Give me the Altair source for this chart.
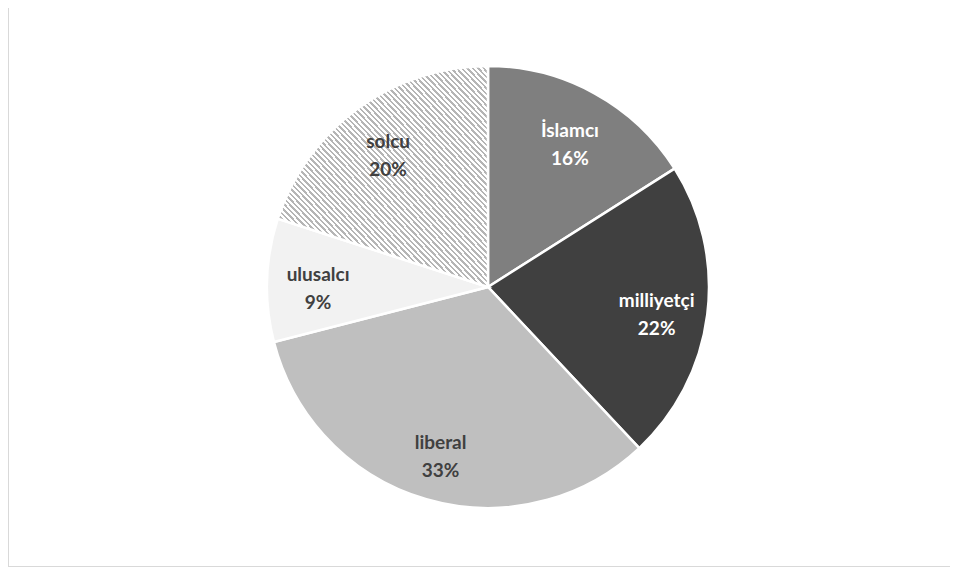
import altair as alt
import pandas as pd

categories = ["İslamcı", "milliyetçi", "liberal", "ulusalcı", "solcu"]
values = [16, 22, 33, 9, 20]
colors = ["#7f7f7f", "#404040", "#bfbfbf", "#f2f2f2", "#ffffff"]

df = pd.DataFrame({"cat": categories, "val": values, "idx": list(range(len(categories)))})

# diagonal hatch for "solcu" built as a striped linear gradient
n_stripes = 78
stops = []
for i in range(n_stripes):
    o0 = i / n_stripes
    o1 = (i + 0.55) / n_stripes
    o2 = (i + 1) / n_stripes
    stops += [
        {"offset": o0, "color": "#ffffff"},
        {"offset": o1, "color": "#ffffff"},
        {"offset": o1, "color": "#b5b5b5"},
        {"offset": o2, "color": "#b5b5b5"},
    ]
hatch = {"gradient": "linear", "x1": 0, "y1": 1, "x2": 1, "y2": 0, "stops": stops}

W, H = 942, 560
cx, cy, R = 480, 279, 221

base = alt.Chart(df)

pie = base.mark_arc(stroke="white", strokeWidth=2.5, radius=R).encode(
    theta=alt.Theta("val:Q", stack=True),
    color=alt.condition(
        "datum.cat == 'solcu'",
        alt.value(hatch),
        alt.Color("cat:N", scale=alt.Scale(domain=categories, range=colors), legend=None),
    ),
    order=alt.Order("idx:Q"),
    x=alt.value(cx),
    y=alt.value(cy),
)

labels = base.transform_calculate(
    label="datum.cat + '\\n' + datum.val + '%'"
).mark_text(
    radius=170, font="Lato", fontSize=19, fontWeight="bold", lineBreak="\n", lineHeight=28,
    baseline="middle", align="center", dy=-7,
).encode(
    theta=alt.Theta("val:Q", stack=True),
    order=alt.Order("idx:Q"),
    text="label:N",
    color=alt.condition(
        "datum.cat == 'İslamcı' || datum.cat == 'milliyetçi'",
        alt.value("#ffffff"), alt.value("#404040"),
    ),
    x=alt.value(cx),
    y=alt.value(cy),
)

frame_left = alt.Chart(df).mark_rule(color="#d9d9d9", strokeWidth=1).encode(
    x=alt.value(0.5), y=alt.value(0), y2=alt.value(H - 1)
)
frame_bottom = alt.Chart(df).mark_rule(color="#d9d9d9", strokeWidth=1).encode(
    x=alt.value(0), x2=alt.value(W), y=alt.value(H - 1.5)
)

chart = alt.layer(pie, labels, frame_left, frame_bottom).properties(
    width=W, height=H, padding=0, autosize=alt.AutoSizeParams(type="none"), background="white"
).configure_view(stroke=None)

chart.save("out.html", embed_options={"renderer": "svg", "actions": False})
